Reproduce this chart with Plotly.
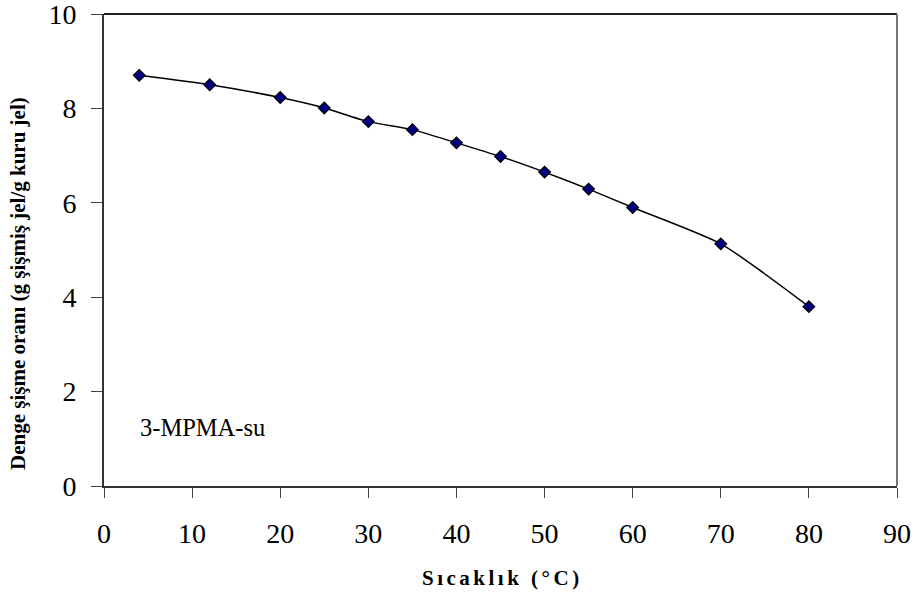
import plotly.graph_objects as go

temperature = [4, 12, 20, 25, 30, 35, 40, 45, 50, 55, 60, 70, 80]
swelling = [8.70, 8.50, 8.23, 8.01, 7.72, 7.55, 7.27, 6.98, 6.65, 6.29, 5.90, 5.13, 3.80]
x_ticks = [0, 10, 20, 30, 40, 50, 60, 70, 80, 90]
y_ticks = [0, 2, 4, 6, 8, 10]

x_title = "Sıcaklık (°C)"
y_title = "Denge şişme oranı (g şişmiş jel/g kuru jel)"
series_label = "3-MPMA-su"

serif = "Liberation Serif, Times New Roman, serif"

fig = go.Figure()
fig.add_trace(go.Scatter(
    x=temperature, y=swelling, mode="lines+markers",
    line=dict(color="black", width=1.5, shape="spline", smoothing=0.6),
    marker=dict(symbol="diamond", size=9, color="#000080",
                line=dict(color="black", width=1.2)),
    showlegend=False,
))

fig.add_annotation(text=series_label, x=3.86, y=1.23, xref="x", yref="y",
                   xanchor="left", yanchor="middle", showarrow=False,
                   font=dict(family=serif, size=24.5, color="black"))

# axis titles as annotations for exact placement
spaced_x_title = "\u2006".join(x_title)
fig.add_annotation(text="<b>" + spaced_x_title + "</b>", x=0.5, y=-0.195,
                   xref="paper", yref="paper", xanchor="center", yanchor="middle",
                   showarrow=False, font=dict(family=serif, size=21, color="black"))
fig.add_annotation(text="<b>" + y_title + "</b>", x=-0.1085, y=0.43,
                   xref="paper", yref="paper", xanchor="center", yanchor="middle",
                   textangle=-90, showarrow=False,
                   font=dict(family=serif, size=21, color="black"))

# plot-area frame (top and right edges)
fig.add_shape(type="line", xref="paper", yref="paper", x0=0, x1=1, y0=1, y1=1,
              line=dict(color="#222", width=2))
fig.add_shape(type="line", xref="paper", yref="paper", x0=1, x1=1, y0=0, y1=1,
              line=dict(color="#777", width=2))

fig.update_layout(
    width=919, height=597,
    margin=dict(l=104, r=22, t=14, b=111),
    paper_bgcolor="white", plot_bgcolor="white",
    font=dict(family=serif, color="black"),
    xaxis=dict(
        range=[0, 90], tickvals=x_ticks, ticktext=[str(v) for v in x_ticks],
        ticks="outside", ticklen=10, tickcolor="#444", tickwidth=1,
        ticklabelstandoff=11, ticklabeloverflow="allow",
        showline=True, linecolor="#333", linewidth=2,
        showgrid=False, zeroline=False, automargin=False,
        tickfont=dict(family=serif, size=28, color="black"),
    ),
    yaxis=dict(
        range=[0, 10], tickvals=y_ticks, ticktext=[str(v) for v in y_ticks],
        ticks="outside", ticklen=11, tickcolor="#444", tickwidth=1,
        ticklabelstandoff=9, ticklabeloverflow="allow",
        showline=True, linecolor="#333", linewidth=2,
        showgrid=False, zeroline=False, automargin=False,
        tickfont=dict(family=serif, size=28, color="black"),
    ),
)

fig.write_html("out.html")
